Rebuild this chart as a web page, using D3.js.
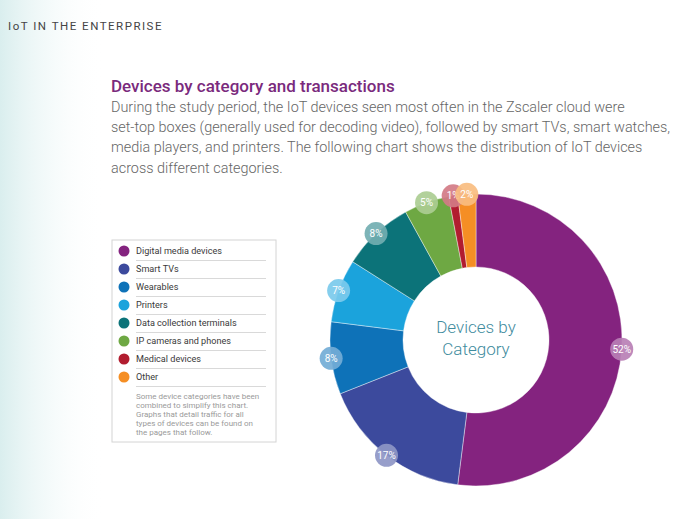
<!DOCTYPE html>
<html>
<head>
<meta charset="utf-8">
<script src="https://cdn.jsdelivr.net/npm/d3@7"></script>
<style>
    body { margin: 0; background: #fff; }
    svg { display: block; font-family: Roboto, "Noto Sans", sans-serif; }
</style>
</head>
<body>
<script>
window.onload = main;

const categories = ["Digital media devices", "Smart TVs", "Wearables", "Printers",
    "Data collection terminals", "IP cameras and phones", "Medical devices", "Other"]
const shares = [52, 17, 8, 7, 8, 5, 1, 2]
const colors = ["#84237f", "#3c4a9d", "#0e72b8", "#1ba3dc", "#0c7379", "#6ea843", "#b11c2f", "#f58e24"]

const headerText = "IoT IN THE ENTERPRISE"
const titleText = "Devices by category and transactions"
const bodyLines = [
    "During the study period, the IoT devices seen most often in the Zscaler cloud were",
    "set-top boxes (generally used for decoding video), followed by smart TVs, smart watches,",
    "media players, and printers. The following chart shows the distribution of IoT devices",
    "across different categories."
]
const centerLines = ["Devices by", "Category"]
const noteLines = [
    "Some device categories have been",
    "combined to simplify this chart.",
    "Graphs that detail traffic for all",
    "types of devices can be found on",
    "the pages that follow."
]

const svgWidth = 680;
const svgHeight = 519;

function main() {
    const svg = d3.select("body").append("svg")
        .attr("width", svgWidth)
        .attr("height", svgHeight)

    draw_background(svg)
    draw_text(svg)
    draw_legend(svg)
    draw_donut(svg)
}

function draw_background(svg) {
    const grad = svg.append("defs").append("linearGradient")
        .attr("id", "leftFade")
        .attr("x1", 0).attr("x2", 1).attr("y1", 0).attr("y2", 0)
    grad.append("stop").attr("offset", "0%").attr("stop-color", "#d3ebeb").attr("stop-opacity", 0.85)
    grad.append("stop").attr("offset", "100%").attr("stop-color", "#ffffff").attr("stop-opacity", 0)

    svg.append("rect")
        .attr("x", 0).attr("y", 0)
        .attr("width", 105).attr("height", svgHeight)
        .attr("fill", "url(#leftFade)")
}

function draw_text(svg) {
    svg.append("text")
        .attr("x", 8).attr("y", 30)
        .attr("font-size", 11.5)
        .attr("letter-spacing", 1.5)
        .attr("fill", "#444")
        .text(headerText)

    svg.append("text")
        .attr("x", 111).attr("y", 92)
        .attr("font-size", 17)
        .attr("font-weight", 500)
        .attr("fill", "#7a2a7d")
        .text(titleText)

    svg.append("g")
        .selectAll("text")
        .data(bodyLines)
        .join("text")
        .attr("x", 111)
        .attr("y", (d, i) => 112 + i * 20.2)
        .attr("font-size", 14.4)
        .attr("font-weight", 300)
        .attr("fill", "#666")
        .text(d => d)
}

function draw_legend(svg) {
    const box = {x: 112, y: 240, w: 164, h: 202}
    const rowY = d3.scalePoint()
        .domain(categories)
        .range([251, 377])

    const g = svg.append("g")

    g.append("rect")
        .attr("x", box.x).attr("y", box.y)
        .attr("width", box.w).attr("height", box.h)
        .attr("fill", "#fff")
        .attr("stroke", "#d4d4d4")

    const rows = g.selectAll("g.row")
        .data(categories)
        .join("g")
        .attr("class", "row")
        .attr("transform", d => `translate(0, ${rowY(d)})`)

    rows.append("circle")
        .attr("cx", 124).attr("cy", 0)
        .attr("r", 5.5)
        .attr("fill", (d, i) => colors[i])

    rows.append("text")
        .attr("x", 136).attr("y", 0)
        .attr("dominant-baseline", "central")
        .attr("font-size", 9.1)
        .attr("fill", "#3a3a3a")
        .text(d => d)

    rows.append("line")
        .attr("x1", 136).attr("x2", 266)
        .attr("y1", 9.5).attr("y2", 9.5)
        .attr("stroke", "#cfcfcf")
        .attr("stroke-width", 0.8)

    g.selectAll("text.note")
        .data(noteLines)
        .join("text")
        .attr("class", "note")
        .attr("x", 136)
        .attr("y", (d, i) => 398.5 + i * 9)
        .attr("font-size", 8)
        .attr("fill", "#9a9a9a")
        .text(d => d)
}

function draw_donut(svg) {
    const cx = 476, cy = 340
    const outerR = 146, innerR = 73

    const data = categories.map((c, i) => ({name: c, value: shares[i], color: colors[i]}))

    const pie = d3.pie()
        .value(d => d.value)
        .sort(null)

    const arc = d3.arc()
        .innerRadius(innerR)
        .outerRadius(outerR)

    const labelArc = d3.arc()
        .innerRadius(outerR)
        .outerRadius(outerR)

    const g = svg.append("g")
        .attr("transform", `translate(${cx}, ${cy})`)

    const arcs = pie(data)

    g.selectAll("path")
        .data(arcs)
        .join("path")
        .attr("d", arc)
        .attr("fill", d => d.data.color)
        .attr("stroke", "#fff")
        .attr("stroke-width", 0.4)

    const labels = g.selectAll("g.label")
        .data(arcs)
        .join("g")
        .attr("class", "label")
        .attr("transform", d => `translate(${labelArc.centroid(d)})`)

    labels.append("circle")
        .attr("r", 11.5)
        .attr("fill", d => d3.interpolateRgb(d.data.color, "#fff")(0.42))
        .attr("fill-opacity", 0.92)

    labels.append("text")
        .attr("text-anchor", "middle")
        .attr("dominant-baseline", "central")
        .attr("font-size", 10)
        .attr("fill", "#fff")
        .text(d => d.data.value + "%")

    g.selectAll("text.center")
        .data(centerLines)
        .join("text")
        .attr("class", "center")
        .attr("x", 0)
        .attr("y", (d, i) => -7 + i * 22)
        .attr("text-anchor", "middle")
        .attr("font-size", 17)
        .attr("font-weight", 300)
        .attr("fill", "#3f8c9e")
        .text(d => d)
}
</script>
</body>
</html>
